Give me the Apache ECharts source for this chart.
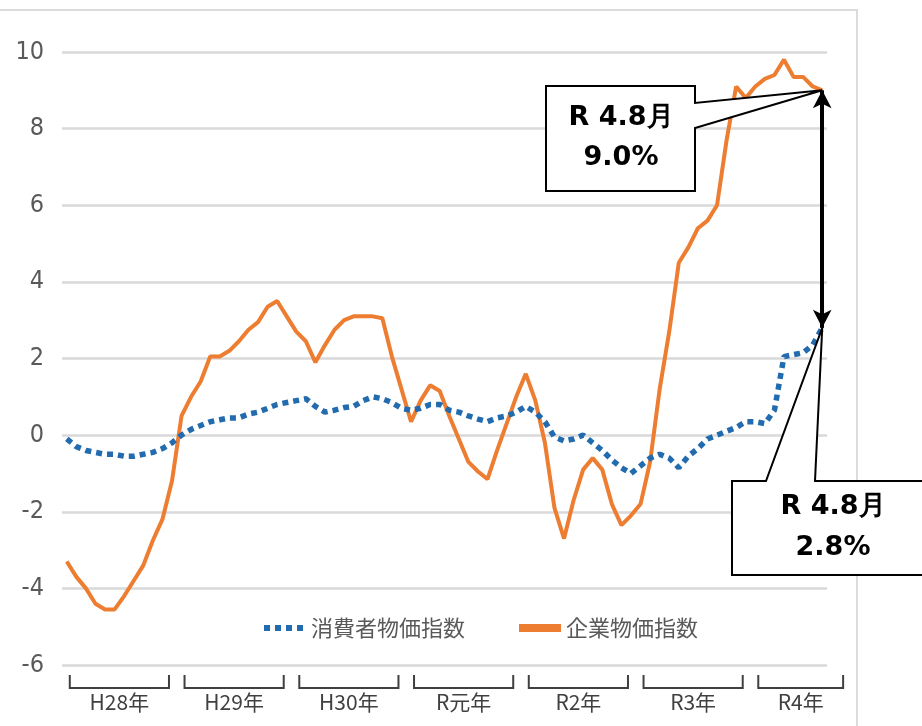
<!DOCTYPE html>
<html>
<head>
<meta charset="utf-8">
<script src="https://cdn.jsdelivr.net/npm/echarts@6/dist/echarts.min.js"></script>
<style>
html, body { margin: 0; padding: 0; background: #fff; }
#priceChart { width: 922px; height: 726px; }
</style>
</head>
<body>
<div id="priceChart"></div>
<script>
// 年区分（H28年=2016年 … R4年=2022年、R4年は8月まで）
var yearLabels = ['H28年', 'H29年', 'H30年', 'R元年', 'R2年', 'R3年', 'R4年'];
var yearMonthCount = [12, 12, 12, 12, 12, 12, 8];

// 消費者物価指数（前年同月比 %）
var cpiName = '消費者物価指数';
var cpiValues = [
    -0.1, -0.3, -0.4, -0.45, -0.5, -0.5, -0.55, -0.55, -0.5, -0.45, -0.35, -0.2,
    0.0, 0.15, 0.25, 0.35, 0.4, 0.45, 0.45, 0.55, 0.6, 0.7, 0.8, 0.85,
    0.9, 0.95, 0.75, 0.6, 0.65, 0.72, 0.75, 0.9, 1.0, 0.95, 0.85, 0.7,
    0.65, 0.7, 0.8, 0.8, 0.65, 0.6, 0.5, 0.42, 0.35, 0.45, 0.5, 0.6,
    0.75, 0.6, 0.35, -0.05, -0.15, -0.1, 0.0, -0.2, -0.4, -0.65, -0.85, -1.0,
    -0.8, -0.6, -0.5, -0.6, -0.85, -0.55, -0.35, -0.1, 0.0, 0.1, 0.2, 0.35,
    0.35, 0.3, 0.65, 2.05, 2.1, 2.15, 2.35, 2.8
];

// 企業物価指数（前年同月比 %）
var cgpiName = '企業物価指数';
var cgpiValues = [
    -3.3, -3.7, -4.0, -4.4, -4.55, -4.55, -4.2, -3.8, -3.4, -2.75, -2.2, -1.2,
    0.5, 1.0, 1.4, 2.05, 2.05, 2.2, 2.45, 2.75, 2.95, 3.35, 3.5, 3.1,
    2.7, 2.45, 1.9, 2.35, 2.75, 3.0, 3.1, 3.1, 3.1, 3.05, 2.05, 1.2,
    0.35, 0.9, 1.3, 1.15, 0.5, -0.1, -0.7, -0.95, -1.15, -0.4, 0.3, 1.0,
    1.6, 0.9, -0.2, -1.9, -2.7, -1.7, -0.9, -0.6, -0.9, -1.8, -2.35, -2.1,
    -1.8, -0.7, 1.2, 2.7, 4.5, 4.9, 5.4, 5.6, 6.0, 7.7, 9.1, 8.8,
    9.1, 9.3, 9.4, 9.8, 9.35, 9.35, 9.1, 9.0
];

// y軸目盛
var yTicks = [-6, -4, -2, 0, 2, 4, 6, 8, 10];

// 月のカテゴリ
var months = [];
var yearStarts = [];
yearLabels.forEach(function (y, i) {
    yearStarts.push(months.length);
    for (var m = 1; m <= yearMonthCount[i]; m++) {
        months.push(y + m + '月');
    }
});
var lastIdx = months.length - 1;

var dom = document.getElementById('priceChart');
var myChart = echarts.init(dom);

var option = {
    backgroundColor: '#ffffff',
    animation: false,
    grid: {
        left: 62,
        right: 95,
        top: 52,
        bottom: 61
    },
    legend: {
        left: 256,
        top: 612,
        itemWidth: 42,
        itemHeight: 10,
        itemGap: 50,
        selectedMode: false,
        textStyle: {
            fontSize: 22,
            color: '#595959',
            fontFamily: '"Noto Sans CJK JP", sans-serif'
        },
        data: [
            { name: cpiName, lineStyle: { width: 6, type: [6, 5] }, itemStyle: { opacity: 0 } },
            { name: cgpiName, lineStyle: { width: 8 }, itemStyle: { opacity: 0 } }
        ]
    },
    xAxis: {
        type: 'category',
        data: months,
        boundaryGap: true,
        axisLine: { show: false },
        axisTick: { show: false },
        axisLabel: { show: false },
        splitLine: { show: false }
    },
    yAxis: {
        type: 'value',
        min: yTicks[0],
        max: yTicks[yTicks.length - 1],
        interval: 2,
        axisLine: { show: false },
        axisTick: { show: false },
        axisLabel: {
            margin: 18,
            fontSize: 25,
            color: '#595959',
            fontFamily: '"Liberation Sans Narrow", "DejaVu Sans Condensed", "Liberation Sans", sans-serif'
        },
        splitLine: {
            lineStyle: { color: '#D9D9D9', width: 2.5 }
        }
    },
    series: [
        {
            name: cgpiName,
            type: 'line',
            data: cgpiValues,
            showSymbol: false,
            symbol: 'none',
            z: 3,
            lineStyle: { color: '#ED7D31', width: 4 },
            itemStyle: { color: '#ED7D31' },
            markLine: {
                silent: true,
                symbol: ['arrow', 'arrow'],
                symbolSize: [14, 18],
                label: { show: false },
                lineStyle: { color: '#000000', width: 4, type: 'solid' },
                data: [[
                    { coord: [lastIdx, cgpiValues[lastIdx]] },
                    { coord: [lastIdx, cpiValues[lastIdx]] }
                ]]
            }
        },
        {
            name: cpiName,
            type: 'line',
            data: cpiValues,
            showSymbol: false,
            symbol: 'none',
            z: 4,
            lineStyle: { color: '#226BAE', width: 5.5, type: [6, 5] },
            itemStyle: { color: '#226BAE' }
        },
        {
            // 年の括弧と年ラベル
            name: 'years',
            type: 'custom',
            silent: true,
            clip: false,
            data: yearStarts.map(function (s) { return [s, yTicks[0]]; }),
            encode: { x: 0, y: 1 },
            renderItem: function (params, api) {
                var i = params.dataIndex;
                var start = api.value(0);
                var p0 = api.coord([0, yTicks[0]]);
                var p1 = api.coord([1, yTicks[0]]);
                var step = p1[0] - p0[0];
                var span = Math.min(11, lastIdx + 2.5 - start);
                var x0 = api.coord([start, yTicks[0]])[0] + 3;
                var x1 = x0 + step * span - 6;
                var y = p0[1];
                return {
                    type: 'group',
                    children: [
                        {
                            type: 'polyline',
                            shape: { points: [[x0, y + 10], [x0, y + 23], [x1, y + 23], [x1, y + 10]] },
                            style: { stroke: '#404040', lineWidth: 2, fill: 'none' }
                        },
                        {
                            type: 'text',
                            style: {
                                text: yearLabels[i],
                                x: (x0 + x1) / 2,
                                y: y + 37,
                                align: 'center',
                                verticalAlign: 'middle',
                                fill: '#404040',
                                font: '21px "Noto Sans CJK JP", sans-serif'
                            }
                        }
                    ]
                };
            }
        }
    ]
};

myChart.setOption(option, true);

// 吹き出し（R4.8月の値）
var tipTop = myChart.convertToPixel({ seriesIndex: 0 }, [lastIdx, cgpiValues[lastIdx]]);
var tipBottom = myChart.convertToPixel({ seriesIndex: 1 }, [lastIdx, cpiValues[lastIdx]]);
var calloutFont = 'bold 27px "DejaVu Sans", Verdana, sans-serif';

myChart.setOption({
    graphic: [
        {
            type: 'rect',
            z: -1,
            silent: true,
            shape: { x: -10, y: 10, width: 867, height: 740 },
            style: { fill: 'none', stroke: '#DCDCDC', lineWidth: 2 }
        },
        {
            type: 'polygon',
            z: 100,
            silent: true,
            shape: {
                points: [[546, 86], [695, 86], [695, 103], tipTop, [695, 128], [695, 191], [546, 191]]
            },
            style: { fill: '#ffffff', stroke: '#000000', lineWidth: 2 }
        },
        {
            type: 'text',
            z: 101,
            silent: true,
            style: {
                text: 'R 4.8月\n9.0%',
                x: 621,
                y: 138,
                align: 'center',
                verticalAlign: 'middle',
                lineHeight: 40,
                fill: '#000000',
                font: calloutFont
            }
        },
        {
            type: 'polygon',
            z: 100,
            silent: true,
            shape: {
                points: [[732, 481], [766, 481], tipBottom, [815, 481], [935, 481], [935, 575], [732, 575]]
            },
            style: { fill: '#ffffff', stroke: '#000000', lineWidth: 2 }
        },
        {
            type: 'text',
            z: 101,
            silent: true,
            style: {
                text: 'R 4.8月\n2.8%',
                x: 833,
                y: 527,
                align: 'center',
                verticalAlign: 'middle',
                lineHeight: 41,
                fill: '#000000',
                font: calloutFont
            }
        }
    ]
});
</script>
</body>
</html>
